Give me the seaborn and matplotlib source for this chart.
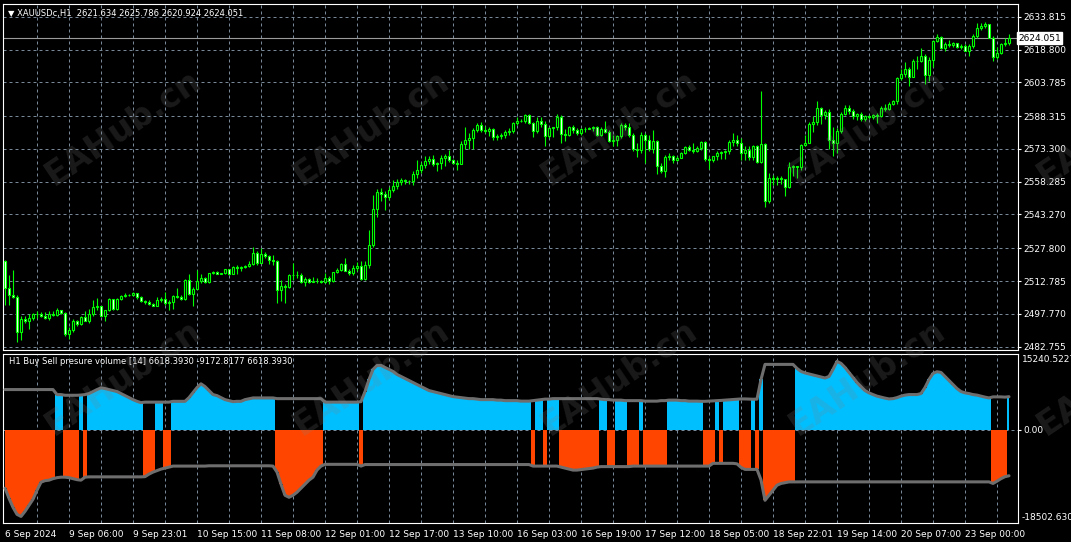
import numpy as np
import pandas as pd
import matplotlib
matplotlib.use("Agg")
import matplotlib.pyplot as plt
import seaborn as sns

# XAUUSDc H1 candles, one value per bar (open = previous close)
first_open = 2522.1
closes = [
    2509.4, 2506.4, 2505.4, 2489.3, 2495.5, 2494.6, 2496.1, 2497.6, 2497.9, 2497.0,
    2495.8, 2497.9, 2497.3, 2499.4, 2498.2, 2488.5, 2490.4, 2494.4, 2493.0, 2496.4,
    2494.6, 2497.5, 2500.9, 2501.2, 2497.0, 2499.4, 2504.5, 2499.8, 2504.5, 2506.0,
    2506.6, 2506.4, 2507.2, 2505.7, 2503.5, 2503.0, 2502.4, 2501.5, 2503.9, 2504.8,
    2502.7, 2503.2, 2506.0, 2505.4, 2504.5, 2513.5, 2506.7, 2509.0, 2512.6, 2514.1,
    2512.5, 2516.4, 2517.0, 2516.2, 2516.4, 2518.2, 2516.2, 2519.1, 2518.8, 2519.1,
    2519.7, 2520.6, 2525.7, 2521.0, 2525.0, 2524.1, 2522.3, 2522.0, 2508.9, 2510.4,
    2510.2, 2515.4, 2515.7, 2515.6, 2512.4, 2513.8, 2512.4, 2513.0, 2512.8, 2512.5,
    2514.2, 2513.0, 2516.9, 2518.0, 2520.5, 2517.5, 2516.5, 2518.7, 2519.9, 2513.8,
    2520.2, 2529.3, 2545.8, 2553.4, 2552.7, 2551.1, 2554.4, 2556.1, 2558.2, 2559.1,
    2558.5, 2558.7, 2561.6, 2563.6, 2565.7, 2567.7, 2568.7, 2566.2, 2566.7, 2569.3,
    2570.0, 2568.1, 2566.9, 2566.6, 2575.7, 2577.5, 2578.4, 2582.0, 2584.2, 2582.0,
    2581.7, 2582.3, 2578.7, 2579.2, 2579.5, 2581.1, 2581.7, 2585.0, 2586.2, 2586.0,
    2588.8, 2585.0, 2581.7, 2586.2, 2584.7, 2579.3, 2582.7, 2583.2, 2588.0, 2580.2,
    2579.6, 2583.5, 2582.0, 2580.5, 2582.3, 2582.6, 2582.8, 2583.5, 2579.7, 2582.3,
    2581.2, 2576.7, 2577.4, 2579.3, 2584.2, 2583.5, 2579.7, 2573.2, 2572.6, 2579.7,
    2577.5, 2573.2, 2576.7, 2565.4, 2563.1, 2569.6, 2569.9, 2568.4, 2569.3, 2571.4,
    2574.1, 2573.0, 2572.4, 2573.7, 2576.3, 2568.7, 2568.0, 2569.9, 2571.4, 2571.7,
    2572.2, 2576.3, 2577.5, 2576.0, 2571.4, 2572.6, 2569.6, 2574.8, 2567.2, 2575.7,
    2549.5, 2560.0, 2559.4, 2559.8, 2559.6, 2555.9, 2565.0, 2565.3, 2565.0, 2575.1,
    2576.2, 2584.9, 2585.5, 2592.0, 2588.7, 2590.1, 2577.4, 2575.9, 2581.6, 2589.5,
    2592.0, 2590.7, 2588.3, 2589.2, 2587.2, 2588.3, 2588.0, 2588.7, 2588.3, 2592.2,
    2591.5, 2594.0, 2595.2, 2605.8, 2607.6, 2609.9, 2606.4, 2613.7, 2613.4, 2615.9,
    2606.9, 2614.0, 2622.7, 2624.5, 2619.4, 2621.5, 2620.9, 2621.7, 2620.0, 2620.5,
    2618.2, 2620.5, 2625.0, 2628.5, 2629.5, 2630.3, 2624.2, 2615.2, 2617.0, 2621.5,
    2621.634, 2624.051]
highs = [
    2522.5, 2515.4, 2517.9, 2506.4, 2497.0, 2496.7, 2497.5, 2498.2, 2499.0, 2498.5,
    2498.5, 2499.0, 2499.0, 2500.5, 2499.7, 2498.5, 2491.9, 2495.5, 2494.8, 2497.0,
    2499.0, 2500.0, 2504.2, 2504.9, 2501.2, 2499.7, 2505.0, 2504.6, 2505.0, 2506.5,
    2507.5, 2507.0, 2507.6, 2507.5, 2505.8, 2504.0, 2504.2, 2502.7, 2505.4, 2505.7,
    2507.9, 2504.2, 2506.4, 2509.4, 2506.4, 2513.6, 2516.1, 2510.2, 2517.9, 2516.1,
    2514.5, 2516.6, 2517.3, 2517.2, 2516.6, 2518.5, 2518.4, 2519.7, 2520.3, 2519.7,
    2520.3, 2521.8, 2528.4, 2526.6, 2527.8, 2525.9, 2524.7, 2524.7, 2522.3, 2513.5,
    2511.5, 2516.0, 2521.0, 2517.5, 2516.5, 2514.5, 2514.0, 2514.5, 2514.0, 2513.5,
    2516.5, 2515.0, 2517.0, 2519.0, 2521.0, 2523.2, 2518.5, 2520.2, 2521.5, 2521.8,
    2522.0, 2536.1, 2552.2, 2554.9, 2555.2, 2554.1, 2555.9, 2559.1, 2559.4, 2560.2,
    2559.4, 2559.0, 2563.1, 2568.1, 2567.2, 2569.9, 2570.2, 2570.7, 2567.4, 2570.7,
    2571.1, 2572.9, 2568.9, 2568.0, 2576.7, 2583.2, 2580.5, 2582.7, 2585.0, 2585.8,
    2583.8, 2583.2, 2582.7, 2580.2, 2580.5, 2582.0, 2582.7, 2585.7, 2588.0, 2587.2,
    2589.5, 2589.5, 2585.7, 2588.0, 2588.0, 2586.0, 2583.5, 2583.5, 2589.2, 2588.8,
    2582.3, 2583.8, 2584.2, 2582.7, 2582.7, 2583.5, 2583.2, 2583.9, 2583.9, 2583.2,
    2586.2, 2582.0, 2579.7, 2579.7, 2585.0, 2585.3, 2585.0, 2580.5, 2576.0, 2581.2,
    2580.5, 2579.7, 2582.0, 2577.2, 2566.9, 2570.7, 2571.4, 2570.7, 2570.2, 2571.8,
    2574.8, 2575.3, 2576.0, 2574.8, 2576.7, 2576.7, 2569.9, 2570.2, 2572.2, 2572.2,
    2572.7, 2577.2, 2580.7, 2579.7, 2578.2, 2574.8, 2574.4, 2575.2, 2575.2, 2599.7,
    2576.0, 2562.3, 2561.5, 2560.7, 2560.7, 2559.5, 2567.5, 2566.0, 2565.3, 2575.6,
    2579.6, 2585.7, 2588.3, 2595.2, 2592.5, 2591.0, 2591.7, 2583.4, 2582.7, 2590.2,
    2593.2, 2593.2, 2591.7, 2589.8, 2590.2, 2588.7, 2588.7, 2589.5, 2589.8, 2592.8,
    2594.0, 2594.8, 2595.8, 2606.1, 2609.9, 2612.9, 2610.6, 2614.4, 2615.9, 2619.4,
    2616.7, 2615.2, 2623.0, 2625.8, 2625.0, 2622.4, 2623.0, 2622.4, 2622.0, 2621.5,
    2621.2, 2621.5, 2625.8, 2631.0, 2631.0, 2631.5, 2630.3, 2625.0, 2620.0, 2622.0,
    2624.0, 2625.786]
lows = [
    2502.0, 2502.0, 2504.9, 2485.1, 2486.0, 2493.7, 2491.0, 2495.2, 2495.8, 2496.4,
    2495.5, 2495.2, 2496.7, 2497.0, 2497.9, 2487.8, 2486.3, 2489.3, 2492.2, 2492.5,
    2494.3, 2493.7, 2497.0, 2499.7, 2496.7, 2494.4, 2499.1, 2499.5, 2499.4, 2504.2,
    2505.5, 2505.8, 2506.0, 2504.5, 2503.2, 2502.5, 2502.0, 2501.2, 2501.4, 2503.0,
    2502.0, 2499.7, 2500.2, 2505.0, 2503.9, 2504.0, 2506.4, 2501.2, 2511.7, 2511.7,
    2512.0, 2512.0, 2516.1, 2515.9, 2516.0, 2516.1, 2515.8, 2516.1, 2516.1, 2517.6,
    2519.0, 2519.3, 2520.3, 2520.3, 2521.0, 2523.5, 2520.5, 2520.2, 2502.9, 2503.7,
    2502.9, 2509.7, 2513.5, 2514.2, 2512.0, 2510.4, 2511.9, 2512.2, 2512.0, 2511.8,
    2512.0, 2511.5, 2512.5, 2516.5, 2517.5, 2517.2, 2515.8, 2515.8, 2517.2, 2513.5,
    2513.5, 2519.0, 2528.5, 2542.1, 2549.6, 2545.1, 2550.0, 2553.4, 2554.9, 2556.7,
    2557.3, 2557.3, 2556.7, 2560.1, 2562.4, 2564.7, 2566.6, 2565.4, 2563.2, 2563.9,
    2565.4, 2567.2, 2566.2, 2563.5, 2566.2, 2573.3, 2573.3, 2573.3, 2581.2, 2581.2,
    2580.8, 2579.0, 2577.2, 2577.2, 2577.8, 2578.2, 2579.7, 2580.5, 2584.2, 2585.5,
    2585.0, 2584.7, 2578.9, 2580.5, 2583.5, 2574.8, 2578.2, 2578.7, 2582.0, 2576.0,
    2576.7, 2579.0, 2580.8, 2579.7, 2579.6, 2581.2, 2582.2, 2581.7, 2579.3, 2579.3,
    2580.8, 2576.3, 2574.4, 2574.4, 2578.2, 2582.0, 2578.9, 2572.2, 2569.6, 2571.4,
    2566.9, 2572.2, 2571.4, 2561.6, 2562.4, 2560.6, 2568.4, 2566.9, 2567.7, 2569.0,
    2571.0, 2572.2, 2571.4, 2571.8, 2573.0, 2567.7, 2564.2, 2567.5, 2568.4, 2568.7,
    2568.7, 2571.1, 2574.7, 2574.7, 2568.4, 2568.0, 2568.4, 2568.4, 2566.9, 2566.9,
    2546.6, 2548.6, 2557.0, 2557.0, 2557.4, 2551.7, 2555.5, 2560.7, 2560.0, 2563.8,
    2574.4, 2575.9, 2581.2, 2584.2, 2584.9, 2587.2, 2573.1, 2570.1, 2571.3, 2580.4,
    2588.7, 2589.5, 2586.8, 2586.5, 2586.2, 2586.2, 2586.8, 2586.8, 2585.0, 2587.9,
    2590.7, 2591.0, 2593.2, 2594.0, 2604.9, 2606.4, 2602.3, 2606.1, 2609.9, 2612.9,
    2602.8, 2604.6, 2610.9, 2622.4, 2618.9, 2617.9, 2620.0, 2620.0, 2619.4, 2619.0,
    2617.9, 2615.9, 2619.4, 2624.2, 2627.6, 2628.5, 2624.0, 2613.7, 2614.4, 2616.7,
    2620.5, 2620.924]

price_ticks = [2633.815, 2618.800, 2603.785, 2588.315, 2573.300, 2558.285,
               2543.270, 2527.800, 2512.785, 2497.770, 2482.755]
last_price = 2624.051
time_labels = ['6 Sep 2024', '9 Sep 06:00', '9 Sep 23:01', '10 Sep 15:00',
               '11 Sep 08:00', '12 Sep 01:00', '12 Sep 17:00', '13 Sep 10:00',
               '16 Sep 03:00', '16 Sep 19:00', '17 Sep 12:00', '18 Sep 05:00',
               '18 Sep 22:01', '19 Sep 14:00', '20 Sep 07:00', '23 Sep 00:00']

# Buy Sell pressure volume indicator
buy_pressure = (
    [8040] * 13 + [7035, 7035, 6900, 6900, 6900, 6900, 6950,
    7035, 7240, 7640, 8040, 8380, 8240, 8040, 7840, 7640, 7240,
    6830, 6430, 6030, 5690, 5430] + [5530] * 7 + [5690] * 4 +
    [6430, 7440, 8440, 9190, 8640, 7840, 7040, 6830, 6430, 6030, 5830, 5630, 5690, 5690,
     6030, 6200] + [6370] * 6 + [6230] * 12 + [5530] * 9 + [5630,
     7640, 10050, 12060, 12860, 12860, 12460, 12060, 11660, 11060, 10650,
     10250, 9850, 9450, 9050, 8640, 8240, 7840, 7640, 7440, 7240,
     7040, 6830, 6630, 6530, 6430, 6330, 6230, 6230, 6130, 6030,
     6030, 6030, 6030, 5930, 5930, 5830, 5830, 5830, 5830, 5730,
     5730, 5730, 5830, 5930, 6030, 6130, 6130, 6230, 6230, 6230] + [6230] * 9 + [6130,
     6030, 6030, 5930, 5930, 5930, 5830, 5830, 5830, 5830, 5830,
     5730, 5730, 5730, 5730, 5830, 5830, 5930, 5930, 5930, 5830,
     5830, 5730, 5730, 5730, 5690, 5690, 5730, 5770, 5830, 5870,
     5930, 5990, 6070, 6130, 6170, 6170, 6130, 6110, 6130, 10050] + [13065] * 8 + [12260, 11660,
     11360, 11160, 10950, 10750, 10550, 10350, 10650, 12060, 13670, 13270,
     12460, 11460, 10450, 9450, 8640, 7840, 7380, 7040, 6730, 6530,
     6330, 6170, 6230, 6430, 6730, 6930, 7040, 7040, 7040, 7240,
     8440, 10050, 11260, 11600, 11460, 10650, 9850, 9050, 8240, 7640,
     7380, 7240, 7040, 6930, 6730, 6530, 6370, 6580, 6580, 6580,
     6530, 6618.393])
sell_pressure = (
    [-11660, -13670, -15480, -16880, -17290, -16280, -15080, -13870, -12060, -10450,
     -10150, -10050, -9750, -9550, -9450, -9450, -9550, -9750, -9950, -10050,
     -9450] + [-9390] * 14 + [-9350, -8840, -8440, -8140, -7840,
     -7640, -7440] + [-7240] * 9 + [-7180] * 16 + [-7240, -8440, -10850,
     -13070, -13470, -13070, -12460, -11660, -10850, -10050, -9450, -8040, -7240] +
    [-6890] * 9 + [-7240] + [-6930] * 42 + [-7240] * 7 + [-7440,
     -7640, -7840, -8040, -8040, -7940, -7840, -7740, -7640, -7440] + [-7340] * 8 +
    [-7240] * 20 + [-6690] * 6 + [-6790, -7500, -7900, -7900, -7900, -7900, -10000,
     -14070, -13070, -12060, -11060, -10710, -10550, -10400] + [-10390] * 50 +
    [-10710, -10250, -9750, -9350, -9172.8177])
# which side dominates, as runs of consecutive bars: B = buy (blue), S = sell (red)
pressure_runs = [('S', 13), ('B', 2), ('S', 4), ('B', 1), ('S', 1), ('B', 14), ('S', 3),
                 ('B', 2), ('S', 2), ('B', 26), ('S', 12), ('B', 9), ('S', 1), ('B', 42),
                 ('S', 1), ('B', 2), ('S', 1), ('B', 3), ('S', 10), ('B', 2), ('S', 2),
                 ('B', 3), ('S', 3), ('B', 1), ('S', 6), ('B', 9), ('S', 3), ('B', 1),
                 ('S', 1), ('B', 4), ('S', 3), ('B', 1), ('S', 1), ('B', 1), ('S', 8),
                 ('B', 49), ('S', 4), ('B', 1)]

LIME = '#00FF00'
BLUE = '#00BFFF'
RED = '#FF4500'
LINE_GRAY = '#6E6E6E'
GRID = '#778899'

sns.set_style("dark", {"axes.facecolor": "black", "figure.facecolor": "black"})
plt.rcParams['font.family'] = ['DejaVu Sans']

df = pd.DataFrame({'close': closes, 'high': highs, 'low': lows})
df['open'] = [first_open] + closes[:-1]
df['bar'] = np.arange(len(df))
df['high'] = df[['high', 'open', 'close']].max(axis=1)
df['low'] = df[['low', 'open', 'close']].min(axis=1)
up = df['close'] >= df['open']

ind = pd.DataFrame({'bar': np.arange(len(buy_pressure)), 'buy': buy_pressure, 'sell': sell_pressure})
ind['is_buy'] = np.repeat([s == 'B' for s, n in pressure_runs], [n for s, n in pressure_runs])

fig = plt.figure(figsize=(10.71, 5.42), dpi=100)
fig.patch.set_facecolor('black')
W, H = 1071, 542
x0, x1 = 2.5, 1018
ax = fig.add_axes([x0 / W, 1 - 350 / H, (x1 - x0) / W, 346 / H])
ax2 = fig.add_axes([x0 / W, 1 - 522.5 / H, (x1 - x0) / W, 169 / H])
xlim = (-0.625, 253.25)

# --- price panel ---
for a in (ax, ax2):
    a.set_facecolor('black')
    a.grid(False)
    a.set_xlim(*xlim)
    for s in a.spines.values():
        s.set_color('white')
        s.set_linewidth(0.8)
    for b in range(8, 252, 8):
        a.axvline(b, color=GRID, lw=0.72, ls=(0, (3, 3)), zorder=1)

for p in price_ticks:
    ax.axhline(p, color=GRID, lw=0.72, ls=(0, (3, 3)), zorder=1)
ax.axhline(last_price, color='#9A9A9A', lw=0.8, zorder=1.5)

ax.vlines(df['bar'], df['low'], df['high'], color=LIME, lw=0.8, zorder=2)
body_bottom = df[['open', 'close']].min(axis=1)
body_height = (df['close'] - df['open']).abs().clip(lower=0.08)
ax.bar(df['bar'], body_height, bottom=body_bottom, width=0.55,
       color=np.where(up, 'black', 'white'), edgecolor=LIME, linewidth=0.8, zorder=3)

ax.set_ylim(2481.24, 2639.63)
ax.set_xticks([])
ax.yaxis.tick_right()
ax.set_yticks(price_ticks)
ax.set_yticklabels([f'{p:.3f}' for p in price_ticks])
ax.tick_params(axis='y', length=2, width=0.8, color='white', labelcolor='white',
               labelsize=6.5, pad=2)
ax.text(1.0, last_price, '2624.051', transform=ax.get_yaxis_transform(),
        ha='left', va='center', fontsize=6.5, color='black',
        bbox=dict(boxstyle='square,pad=0.15', fc='white', ec='white'))
ax.set_ylabel('')

# --- indicator panel ---
ax2.axhline(0, color=GRID, lw=0.72, ls=(0, (3, 3)), zorder=1)
ax2.fill_between(ind['bar'], 0, np.where(ind['is_buy'], ind['buy'], 0),
                 step='mid', color=BLUE, lw=0, zorder=2)
ax2.fill_between(ind['bar'], 0, np.where(ind['is_buy'], 0, ind['sell']),
                 step='mid', color=RED, lw=0, zorder=2)
sns.lineplot(data=ind, x='bar', y='buy', ax=ax2, color=LINE_GRAY, lw=2.2, zorder=3)
sns.lineplot(data=ind, x='bar', y='sell', ax=ax2, color=LINE_GRAY, lw=2.2, zorder=3)
ax2.set_ylim(-18502.63, 15240.5227)
ax2.set_xlabel('')
ax2.set_ylabel('')
ax2.yaxis.tick_right()
ax2.set_yticks([0])
ax2.set_yticklabels(['0.00'])
ax2.tick_params(axis='y', length=2, width=0.8, color='white', labelcolor='white',
                labelsize=6.5, pad=2)
ax2.set_xticks(range(0, 252, 16))
ax2.set_xticklabels(time_labels)
ax2.set_xticks(range(8, 252, 16), minor=True)
ax2.tick_params(axis='x', which='major', length=3.6, width=0.8, color='white',
                labelcolor='white', labelsize=6.5, pad=1.5)
ax2.tick_params(axis='x', which='minor', length=2.2, width=0.8, color='white')
plt.setp(ax2.get_xticklabels(), ha='left')

fig.text(1022 / W, 1 - 360 / H, '15240.5227', color='white', fontsize=6.5, va='center', ha='left')
fig.text(1022 / W, 1 - 518 / H, '-18502.6309', color='white', fontsize=6.5, va='center', ha='left')

# headers
fig.text(8 / W, 1 - 13.5 / H, '▼ XAUUSDc,H1  2621.634 2625.786 2620.924 2624.051',
         color='white', fontsize=6, va='center', ha='left')
fig.text(9 / W, 1 - 361 / H, 'H1 Buy Sell presure volume [14] 6618.3930 -9172.8177 6618.3930',
         color='white', fontsize=6, va='center', ha='left')

# watermark
for cy in (128, 378):
    for cx in (123, 371, 619, 867, 1115):
        fig.text(cx / W, 1 - cy / H, 'EAHub.cn', fontsize=24, fontweight='bold',
                 color='#808080', alpha=0.2, rotation=34, rotation_mode='anchor',
                 ha='center', va='center')

fig.savefig('out.png', dpi=100, facecolor='black')
